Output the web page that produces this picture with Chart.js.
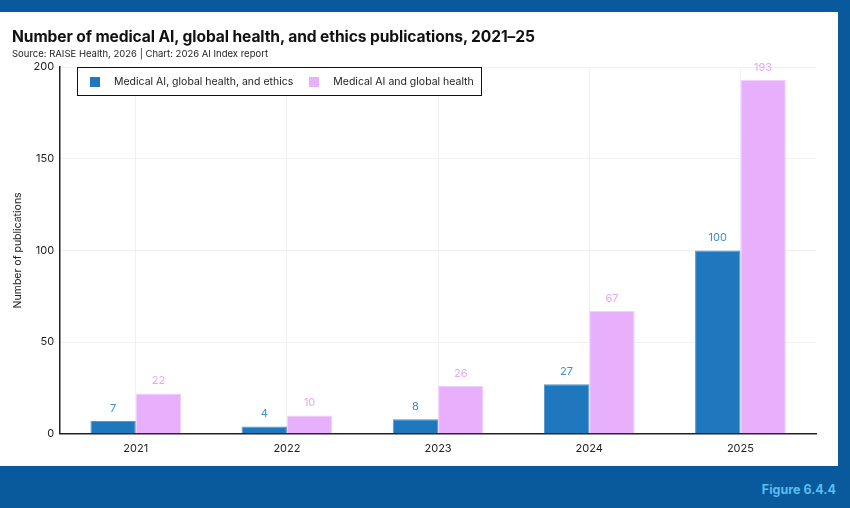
<!DOCTYPE html>
<html><head><meta charset="utf-8">
<script src="https://cdn.jsdelivr.net/npm/chart.js@4"></script>
<style>
html,body{margin:0;padding:0;}
body{width:850px;height:508px;background:#085a9c;position:relative;overflow:hidden;font-family:Inter,"Noto Sans",sans-serif;}
#panel{position:absolute;left:0;top:12px;width:838px;height:454px;background:#fff;}
#title{position:absolute;left:12px;top:15px;font-size:15.6px;font-weight:700;color:#111;letter-spacing:-0.1px;white-space:nowrap;}
#sub{position:absolute;left:12px;top:36px;font-size:9.5px;color:#222;white-space:nowrap;}
#fig{position:absolute;right:14px;bottom:11px;font-size:12.5px;font-weight:700;color:#5cbcf0;}
#wrap{position:absolute;left:0;top:0;width:838px;height:454px;}
#legend{position:absolute;left:77px;top:55px;width:405px;height:29px;border:1.5px solid #111;display:flex;align-items:center;font-size:10.5px;color:#222;box-sizing:border-box;white-space:nowrap;background:#fff;}
#legend span.sw{display:inline-block;width:10px;height:10px;margin:0 14px 0 12px;flex:none;}
</style></head>
<body>
<div id="panel">
 <div id="wrap"><canvas id="c"></canvas></div>
 <div id="title">Number of medical AI, global health, and ethics publications, 2021–25</div>
 <div id="sub">Source: RAISE Health, 2026 | Chart: 2026 AI Index report</div>
 <div id="legend"><span class="sw" style="background:#1f77bd"></span>Medical AI, global health, and ethics<span class="sw" style="background:#e8b0fc;margin-left:16px"></span>Medical AI and global health</div>
</div>
<div id="fig">Figure 6.4.4</div>
<script>
const years = ["2021","2022","2023","2024","2025"];
const ethicsSeries = [7,4,8,27,100];
const globalSeries = [22,10,26,67,193];
const seriesNames = ["Medical AI, global health, and ethics","Medical AI and global health"];
const yTicks = [0,50,100,150,200];

const labelPlugin = {
  id:'vals',
  afterDatasetsDraw(chart){
    const ctx = chart.ctx;
    ctx.save();
    ctx.font = '11px Inter, "Noto Sans", sans-serif';
    ctx.textAlign='center'; ctx.textBaseline='bottom';
    chart.data.datasets.forEach((ds,i)=>{
      const meta = chart.getDatasetMeta(i);
      ctx.fillStyle = ds.labelColor;
      meta.data.forEach((bar,j)=>{
        ctx.fillText(String(ds.data[j]), bar.x, bar.y-7);
      });
    });
    ctx.restore();
  }
};

new Chart(document.getElementById('c'),{
  type:'bar',
  data:{labels:years,datasets:[
    {label:seriesNames[0],data:ethicsSeries,backgroundColor:'#1f77bd',borderColor:'#4f97d0',borderWidth:{top:1,left:1,right:1,bottom:0},labelColor:'#3b8fd2',categoryPercentage:0.6,barPercentage:1.0},
    {label:seriesNames[1],data:globalSeries,backgroundColor:'#e8b0fc',borderColor:'#f1d0fd',borderWidth:{top:1,left:1,right:1,bottom:0},labelColor:'#e6a8fb',categoryPercentage:0.6,barPercentage:1.0}
  ]},
  options:{
    responsive:true,maintainAspectRatio:false,animation:false,
    layout:{padding:{top:55,right:22,bottom:3,left:12}},
    plugins:{legend:{display:false},tooltip:{enabled:false}},
    scales:{
      x:{grid:{offset:false,color:'#f0f0f0',drawTicks:false},border:{color:'#222',width:1.5},
         ticks:{color:'#222',font:{size:11,family:'Inter'},padding:8}},
      y:{min:0,max:200,afterBuildTicks(ax){ax.ticks=yTicks.map(v=>({value:v}));},
         grid:{color:'#f0f0f0',drawTicks:false},border:{color:'#222',width:1.5},
         ticks:{color:'#222',font:{size:11,family:'Inter'},padding:6},
         title:{display:true,text:'Number of publications',color:'#222',font:{size:10.5,family:'Inter'},padding:{top:0,bottom:3}}}
    }
  },
  plugins:[labelPlugin]
});
</script>
</body></html>
